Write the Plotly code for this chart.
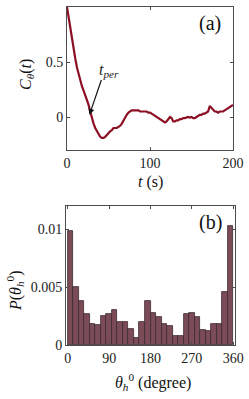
import plotly.graph_objects as go

# ---- data: panel (a) ----
t_s = [0, 2, 4, 6, 8, 10, 12, 14, 16, 18, 20, 22, 24, 26, 28, 30, 32, 34, 36, 38,
       40, 42, 44, 46, 48, 50, 52, 54, 56, 58, 60, 62, 64, 66, 68, 70, 72, 74, 76, 78,
       80, 82, 84, 86, 88, 90, 92, 94, 96, 98, 100, 102, 104, 106, 108, 110, 112, 114,
       116, 118, 120, 122, 124, 126, 128, 130, 132, 134, 136, 138, 140, 142, 144, 146,
       148, 150, 152, 154, 156, 158, 160, 162, 164, 166, 168, 170, 172, 174, 176, 178,
       180, 182, 184, 186, 188, 190, 192, 194, 196, 198, 200]
c_theta = [1.00, 0.90, 0.79, 0.70, 0.62, 0.53, 0.45, 0.39, 0.33, 0.28, 0.24, 0.20, 0.16,
           0.11, 0.05, -0.01, -0.06, -0.10, -0.13, -0.16, -0.18, -0.19, -0.19, -0.18,
           -0.16, -0.14, -0.13, -0.12, -0.10, -0.10, -0.10, -0.09, -0.08, -0.06, -0.03,
           -0.01, 0.02, 0.04, 0.05, 0.06, 0.06, 0.06, 0.055, 0.06, 0.05, 0.05, 0.05,
           0.045, 0.05, 0.04, 0.04, 0.03, 0.02, 0.01, 0.00, -0.01, -0.02, -0.03, -0.04,
           -0.05, -0.04, -0.02, 0.00, -0.01, -0.04, -0.04, -0.03, -0.03, -0.02, -0.02,
           -0.01, -0.01, -0.005, 0.00, -0.005, 0.00, -0.01, -0.01, 0.00, 0.01, 0.02,
           0.02, 0.03, 0.03, 0.04, 0.05, 0.10, 0.08, 0.06, 0.05, 0.05, 0.04, 0.05,
           0.05, 0.05, 0.06, 0.07, 0.08, 0.09, 0.10, 0.11]
t_per_point = [27, 0.02]
t_per_tail = [42, 0.35]
t_per_label = [50, 0.42]

# ---- data: panel (b) ----
bin_width = 12
density = [0.0098, 0.0050, 0.0038, 0.0027, 0.0018, 0.0017, 0.0025, 0.0027, 0.0030, 0.0020,
           0.0020, 0.0014, 0.0006, 0.0020, 0.0038, 0.0028, 0.0024, 0.0018, 0.0016, 0.0008,
           0.0008, 0.0027, 0.0028, 0.0024, 0.0013, 0.0012, 0.0018, 0.0018, 0.0046, 0.0103]
bin_centers = [bin_width * i + bin_width / 2 for i in range(len(density))]

W, H = 249, 399
FONT = "Liberation Serif, Times New Roman, Times, serif"
AX = "#4d4d4d"

fig = go.Figure()
fig.add_trace(go.Scatter(x=t_s, y=c_theta, mode="lines",
                         line=dict(color="#8c0f24", width=2.2),
                         xaxis="x", yaxis="y", showlegend=False))
fig.add_trace(go.Bar(x=bin_centers, y=density, width=bin_width,
                     marker=dict(color="#7b4b57", line=dict(color="#3d2a30", width=0.8)),
                     xaxis="x2", yaxis="y2", showlegend=False))

def px_x(p):
    return p / W

def px_y(p):
    return 1 - p / H

axis_common = dict(showline=True, linecolor=AX, linewidth=1, mirror="ticks",
                   ticks="inside", ticklen=3, tickcolor=AX, showgrid=False,
                   zeroline=False, automargin=False,
                   tickfont=dict(family=FONT, size=14, color="#222"))

fig.update_layout(
    width=W, height=H, margin=dict(l=0, r=0, t=0, b=0, autoexpand=False),
    paper_bgcolor="white", plot_bgcolor="white",
    font=dict(family=FONT),
    xaxis=dict(domain=[px_x(67), px_x(233)], range=[0, 200],
               tickvals=[0, 100, 200], anchor="y", **axis_common),
    yaxis=dict(domain=[px_y(150), px_y(7)], range=[-0.3, 1],
               tickvals=[0, 0.5, 1], ticktext=["0", "0.5", "1"], anchor="x", **axis_common),
    xaxis2=dict(domain=[px_x(66), px_x(235)], range=[-4, 364],
                tickvals=[0, 90, 180, 270, 360], anchor="y2", **axis_common),
    yaxis2=dict(domain=[px_y(345), px_y(206)], range=[0, 0.012],
                tickvals=[0, 0.005, 0.01], ticktext=["0", "0.005", "0.01"],
                anchor="x2", **axis_common),
    bargap=0,
)

fig.add_annotation(x=t_per_point[0], y=t_per_point[1], xref="x", yref="y",
                   ax=t_per_tail[0], ay=t_per_tail[1], axref="x", ayref="y", text="",
                   showarrow=True, arrowhead=2, arrowsize=1, arrowwidth=1.2,
                   arrowcolor="#111")
fig.add_annotation(x=t_per_label[0], y=t_per_label[1], xref="x", yref="y",
                   xanchor="center", yanchor="middle",
                   text="<i>t<sub>per</sub></i>", showarrow=False,
                   font=dict(family=FONT, size=16, color="#222"))

def label(x, y, text, size=16, angle=0):
    fig.add_annotation(x=px_x(x), y=px_y(y), xref="paper", yref="paper",
                       xanchor="center", yanchor="middle", textangle=angle,
                       text=text, showarrow=False,
                       font=dict(family=FONT, size=size, color="#111"))

label(210, 23, "(a)", size=20)
label(210, 222, "(b)", size=20)
label(150, 182, "<i>t</i> (s)")
label(26, 75, "<i>C<sub>θ</sub></i>(<i>t</i>)", angle=-90)
label(153, 382, "<i>θ</i><sub><i>h</i></sub><sup>0</sup> (degree)")
label(15, 291, "<i>P</i>(<i>θ</i><sub><i>h</i></sub><sup>0</sup>)", angle=-90)

fig.write_html("out.html", config={"displayModeBar": False},
               post_script="document.body.style.margin='0';document.body.style.overflow='hidden';")
